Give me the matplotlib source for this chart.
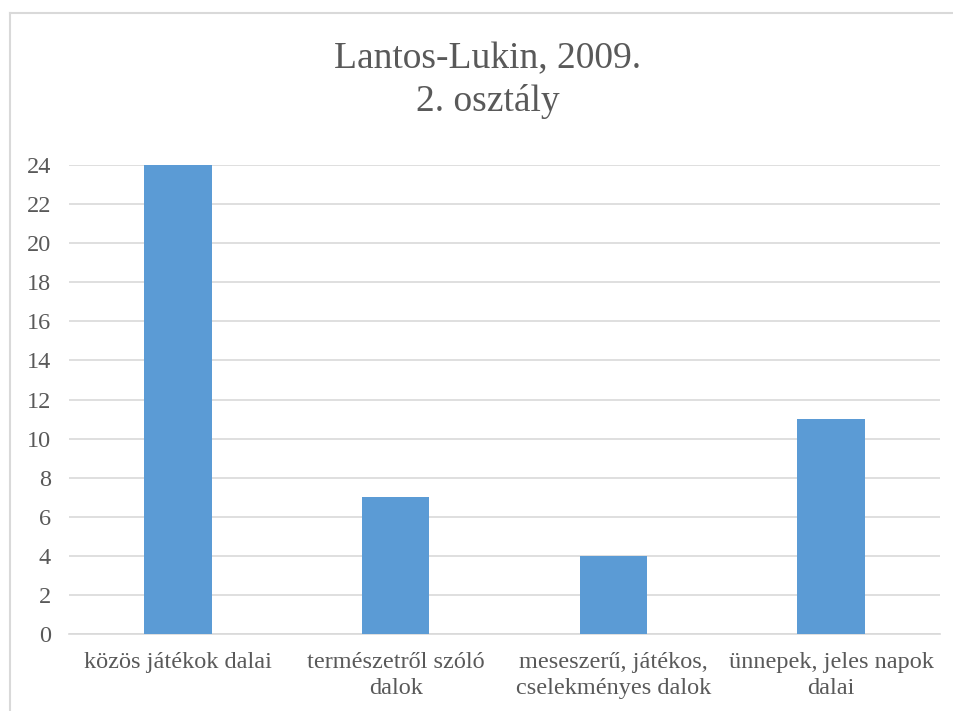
import matplotlib
matplotlib.use("Agg")
import matplotlib.pyplot as plt
from matplotlib.lines import Line2D

categories = ["közös játékok dalai", "természetről szóló\ndalok",
              "meseszerű, játékos,\ncselekményes dalok", "ünnepek, jeles napok\ndalai"]
values = [24, 7, 4, 11]
yticks = list(range(0, 25, 2))
title = "Lantos-Lukin, 2009.\n2. osztály"

plt.rcParams['font.family'] = ['Liberation Serif', 'DejaVu Serif']
txt = '#595959'

fig = plt.figure(figsize=(9.54, 7.11), dpi=100)
W, H = 954, 711
ax = fig.add_axes([69 / W, 1 - 634 / H, (940 - 69) / W, (634 - 165) / H])

x = list(range(len(categories)))
ax.bar(x, values, width=0.31, color='#5B9BD5', zorder=3)
ax.set_xlim(-0.5, len(categories) - 0.5)
ax.set_ylim(0, 24)
ax.set_yticks(yticks)
ax.set_yticklabels([str(t) for t in yticks])
ax.set_xticks(x)
ax.set_xticklabels(categories, linespacing=1.3)
ax.grid(axis='y', color='#D9D9D9', linewidth=1.2, zorder=0)
for s in ['top', 'right', 'left']:
    ax.spines[s].set_visible(False)
ax.spines['bottom'].set_color('#D9D9D9')
ax.spines['bottom'].set_linewidth(1.2)
ax.tick_params(axis='both', length=0, colors=txt, labelsize=17.5)
ax.tick_params(axis='y', pad=13)
ax.tick_params(axis='x', pad=13)

fig.text(488 / W, 1 - 80 / H, title, ha='center', va='center', fontsize=27,
         color=txt, linespacing=1.3)

bx, by = 10.5 / W, 1 - 12.5 / H
fig.add_artist(Line2D([bx, bx], [0, by], transform=fig.transFigure,
                      color='#D9D9D9', linewidth=1.5))
fig.add_artist(Line2D([bx, 1], [by, by], transform=fig.transFigure,
                      color='#D9D9D9', linewidth=1.5))

fig.savefig('out.png', dpi=100)
